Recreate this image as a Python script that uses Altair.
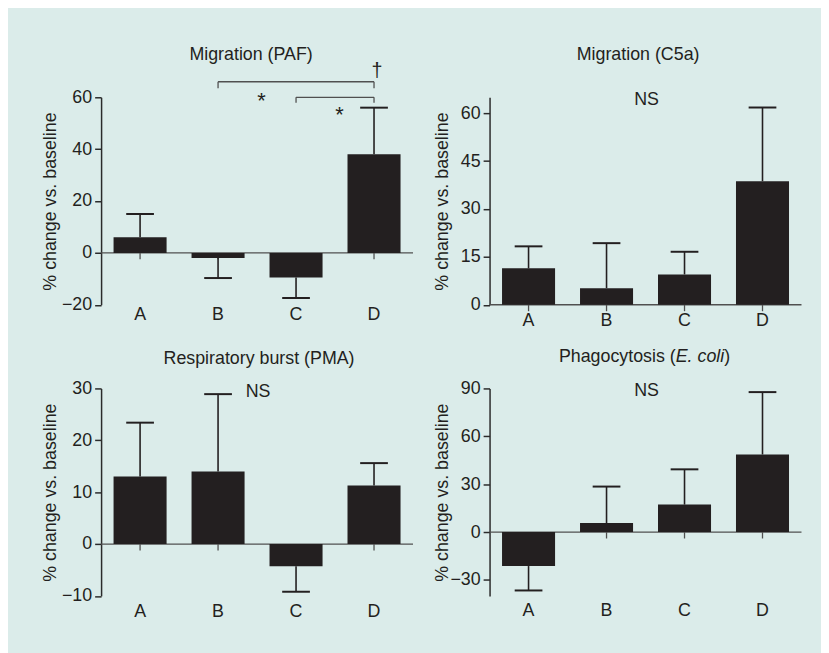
import altair as alt
import pandas as pd

# ---------------- data ----------------
categories = ["A", "B", "C", "D"]

paf_mean = [6, -2, -9.5, 38]
paf_err = [9, 7.7, 7.9, 18]
c5a_mean = [11.4, 5.2, 9.5, 38.7]
c5a_err = [6.9, 14.1, 7.1, 23.1]
pma_mean = [13, 14, -4.3, 11.3]
pma_err = [10.4, 14.9, 4.9, 4.3]
ecoli_mean = [-21.3, 5.6, 17.2, 48.6]
ecoli_err = [15.3, 22.9, 22.1, 39.1]

paf_domain = [-20, 60]
paf_ticks = [-20, 0, 20, 40, 60]
c5a_domain = [0, 65]
c5a_ticks = [0, 15, 30, 45, 60]
pma_domain = [-10, 30]
pma_ticks = [-10, 0, 10, 20, 30]
ecoli_domain = [-40, 90]
ecoli_ticks = [-30, 0, 30, 60, 90]

# significance annotations (PAF panel)
bracket_from = ["B", "C"]
bracket_to = ["D", "D"]
bracket_top = [66, 60]
bracket_bottom = [63.5, 57.9]
star_cat = ["C", "D"]
star_y = [58.7, 53]
dagger_cat = ["D"]
dagger_y = [70.3]

# ---------------- style ----------------
W, H = 315, 209.5
INK = "#231f20"
AXC = "#2b2b2b"
GRAY = "#505050"
BG = "#dbecea"
FONT = "Liberation Sans"
YTITLE = "% change vs. baseline"


def make_panel(means, errs, domain, ticks, label_pad, ext, tpad):
    df = pd.DataFrame({"cat": categories, "value": means, "err": errs})
    df["end"] = [m + e if m >= 0 else m - e for m, e in zip(means, errs)]

    xscale = alt.Scale(paddingInner=0.32, paddingOuter=0.16)
    xaxis = alt.Axis(title=None, labelAngle=0, domain=False, ticks=False, tickSize=0,
                     labelPadding=label_pad, labelFontSize=18, labelColor=INK,
                     labelFont=FONT, grid=False)
    yscale = alt.Scale(domain=domain, nice=False)
    yaxis = alt.Axis(title=YTITLE, values=ticks, grid=False, domainColor=AXC,
                     domainWidth=1.5, tickColor=AXC, tickWidth=1.5, tickSize=6.5,
                     labelPadding=3, labelFontSize=18, labelColor=INK, labelFont=FONT,
                     labelFlush=False, labelOverlap=False,
                     titleFont=FONT, titleFontSize=18, titleFontWeight="normal",
                     titleColor=INK, titlePadding=tpad, minExtent=ext, maxExtent=ext)

    def X(field="cat"):
        return alt.X(f"{field}:N", scale=xscale, axis=xaxis)

    def Y(field):
        return alt.Y(f"{field}:Q", scale=yscale, axis=yaxis)

    base = alt.Chart(df)
    zero = alt.Chart(pd.DataFrame({"z": [0]})).mark_rule(
        color=GRAY, strokeWidth=1.3).encode(y=Y("z"))
    xticks = base.mark_tick(orient="vertical", size=6.5, thickness=1.3, color=GRAY,
                            yOffset=3.25, opacity=1).encode(
        x=X(), y=alt.Y(datum=0, scale=yscale, axis=yaxis))
    bars = base.mark_bar(color=INK).encode(x=X(), y=Y("value"), y2=alt.datum(0))
    whisk = base.mark_rule(color=INK, strokeWidth=1.6).encode(x=X(), y=Y("value"), y2="end:Q")
    caps = base.mark_tick(orient="horizontal", size=28, thickness=2, color=INK,
                          opacity=1).encode(x=X(), y=Y("end"))
    return [zero, xticks, bars, whisk, caps], X, Y


def text_layer(txt, x, y, size=18, align="center", style="normal"):
    return alt.Chart(pd.DataFrame({"t": [txt]})).mark_text(
        align=align, baseline="middle", fontSize=size, font=FONT, color=INK,
        fontStyle=style).encode(x=alt.value(x), y=alt.value(y), text="t:N")


# ---- Panel 1: Migration (PAF)
l1, X1, Y1 = make_panel(paf_mean, paf_err, paf_domain, paf_ticks, 1.3, 39, 2.7)
br = pd.DataFrame({"x1": bracket_from, "x2": bracket_to, "y": bracket_top})
drops = pd.DataFrame({"cat": bracket_from + bracket_to,
                      "top": bracket_top + bracket_top,
                      "bot": bracket_bottom + bracket_bottom})
stars = pd.DataFrame({"cat": star_cat, "y": star_y, "t": ["*", "*"]})
dag = pd.DataFrame({"cat": dagger_cat, "y": dagger_y, "t": ["\u2020"]})
br_h = alt.Chart(br).mark_rule(color=GRAY, strokeWidth=1.3).encode(
    x=X1("x1"), x2="x2:N", y=Y1("y"))
br_v = alt.Chart(drops).mark_rule(color=GRAY, strokeWidth=1.3).encode(
    x=X1("cat"), y=Y1("top"), y2="bot:Q")
star_t = alt.Chart(stars).mark_text(fontSize=22, font=FONT, color=INK, dx=-35,
                                    baseline="middle").encode(x=X1("cat"), y=Y1("y"), text="t:N")
dag_t = alt.Chart(dag).mark_text(fontSize=20, font=FONT, color=INK, dx=3,
                                 baseline="middle").encode(x=X1("cat"), y=Y1("y"), text="t:N")
p1 = alt.layer(*l1, br_h, br_v, star_t, dag_t,
               text_layer("Migration (PAF)", W / 2 - 6, -42.3)).properties(width=W, height=H)

# ---- Panel 2: Migration (C5a)
l2, X2, Y2 = make_panel(c5a_mean, c5a_err, c5a_domain, c5a_ticks, 7, 29.5, 8.8)
p2 = alt.layer(*l2, text_layer("Migration (C5a)", W / 2 - 7.5, -43),
               text_layer("NS", W / 2 + 1, 3)).properties(width=W, height=H)

# ---- Panel 3: Respiratory burst (PMA)
l3, X3, Y3 = make_panel(pma_mean, pma_err, pma_domain, pma_ticks, 6.7, 39, 2.7)
p3 = alt.layer(*l3, text_layer("Respiratory burst (PMA)", W / 2 + 2, -30),
               text_layer("NS", W / 2 + 1, 3.4)).properties(width=W, height=H)

# ---- Panel 4: Phagocytosis (E. coli)
l4, X4, Y4 = make_panel(ecoli_mean, ecoli_err, ecoli_domain, ecoli_ticks, 6, 29.5, 8.8)
p4 = alt.layer(*l4,
               text_layer("Phagocytosis (", 70, -31.7, align="left"),
               text_layer("E. coli", 188, -31.7, align="left", style="italic"),
               text_layer(")", 237, -31.7, align="left"),
               text_layer("NS", W / 2 + 1, 2.7)).properties(width=W, height=H)

chart = alt.concat(p1, p2, p3, p4, columns=2,
                   spacing={"row": 84, "column": 77.3}, bounds="flush").properties(
    padding={"left": 34, "top": 35, "right": 19, "bottom": 29},
    background=BG,
).configure_view(strokeWidth=0)

chart.save("out.html", embed_options={"renderer": "svg", "actions": False})
